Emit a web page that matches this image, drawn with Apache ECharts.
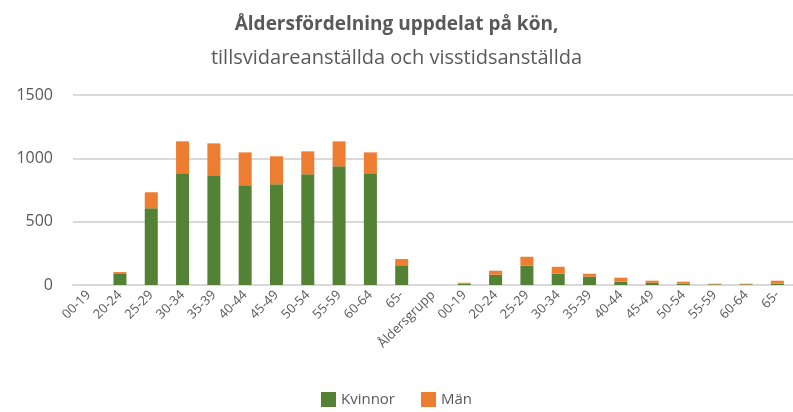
<!DOCTYPE html>
<html>
<head>
<meta charset="utf-8">
<script src="https://cdn.jsdelivr.net/npm/echarts@6/dist/echarts.min.js"></script>
<style>
  html, body { margin: 0; padding: 0; background: #fff; }
  #chart { width: 793px; height: 412px; }
</style>
</head>
<body>
<div id="chart"></div>
<script>
// kategorier: två åldersgrupperingar med en tom mellan
const categories = [
  '00-19', '20-24', '25-29', '30-34', '35-39', '40-44', '45-49', '50-54', '55-59', '60-64', '65-',
  'Åldersgrupp',
  '00-19', '20-24', '25-29', '30-34', '35-39', '40-44', '45-49', '50-54', '55-59', '60-64', '65-'
];

// Kvinnor
const kvinnor = [
  0, 87, 606, 882, 866, 788, 795, 874, 937, 882, 150,
  '-',
  10, 81, 152, 89, 66, 26, 18, 10, 5, 5, 10
];

// Män
const man = [
  0, 15, 126, 252, 252, 259, 221, 181, 197, 165, 55,
  '-',
  8, 32, 71, 55, 23, 32, 16, 16, 5, 5, 24
];

const yTicks = { min: 0, max: 1500, interval: 500 };

const chart = echarts.init(document.getElementById('chart'));

const font = 'Open Sans, Liberation Sans, sans-serif';

const option = {
  animation: false,
  textStyle: { fontFamily: font },
  title: {
    text: 'Åldersfördelning uppdelat på kön,',
    subtext: 'tillsvidareanställda och visstidsanställda',
    left: 'center',
    top: 10,
    itemGap: 14,
    textStyle: { fontSize: 19, fontWeight: 'bold', color: '#595959', fontFamily: font },
    subtextStyle: { fontSize: 20, color: '#595959', fontFamily: font }
  },
  legend: {
    data: ['Kvinnor', 'Män'],
    bottom: 0,
    left: 'center',
    itemWidth: 15,
    itemHeight: 15,
    itemGap: 26,
    icon: 'rect',
    textStyle: { fontSize: 15, color: '#595959', fontFamily: font }
  },
  grid: {
    left: 73,
    top: 95,
    width: 724,
    height: 190
  },
  xAxis: {
    type: 'category',
    data: categories,
    axisTick: { show: false },
    axisLine: { lineStyle: { color: '#d9d9d9', width: 2 } },
    axisLabel: {
      rotate: 45,
      interval: 0,
      color: '#595959',
      fontSize: 13,
      margin: 8,
      fontFamily: font
    }
  },
  yAxis: {
    type: 'value',
    min: yTicks.min,
    max: yTicks.max,
    interval: yTicks.interval,
    axisLine: { show: false },
    axisTick: { show: false },
    splitLine: { lineStyle: { color: '#d9d9d9', width: 2 } },
    axisLabel: {
      color: '#595959',
      fontSize: 16,
      margin: 20,
      fontFamily: font,
      formatter: v => String(v)
    }
  },
  series: [
    {
      name: 'Kvinnor',
      type: 'bar',
      stack: 'total',
      barWidth: 13,
      itemStyle: { color: '#548235' },
      data: kvinnor
    },
    {
      name: 'Män',
      type: 'bar',
      stack: 'total',
      barWidth: 13,
      itemStyle: { color: '#ED7D31' },
      data: man
    }
  ]
};

chart.setOption(option);
</script>
</body>
</html>
